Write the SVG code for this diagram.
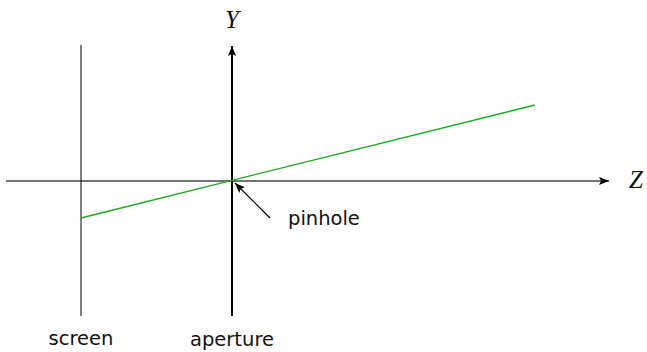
<svg xmlns="http://www.w3.org/2000/svg" width="647" height="352" viewBox="0 0 647 352">
<defs>
<style>
.lbl{font-family:"DejaVu Sans",sans-serif;font-size:19.5px;fill:#111}
.math{font-family:"Liberation Serif",serif;font-style:italic;font-size:25px;fill:#111}
</style>
<marker id="ah" viewBox="0 0 10 8" refX="10" refY="4" markerWidth="11" markerHeight="8" markerUnits="userSpaceOnUse" orient="auto">
<path d="M0,0 L10,4 L0,8 L2,4 Z" fill="#000"/>
</marker>
</defs>
<g id="connectors">
<line x1="6" y1="181" x2="609" y2="181" stroke="#444" stroke-width="1.4" marker-end="url(#ah)"/>
<line x1="232" y1="316" x2="232" y2="46" stroke="#000" stroke-width="2" marker-end="url(#ah)"/>
<line x1="81" y1="45" x2="81" y2="316" stroke="#000" stroke-width="1"/>
<line x1="81" y1="218" x2="535" y2="105" stroke="#1aaa1a" stroke-width="1.3"/>
<line x1="270" y1="218" x2="235" y2="183" stroke="#000" stroke-width="1.2" marker-end="url(#ah)"/>
</g>
<g id="axis-y"><text class="math" x="232" y="28" text-anchor="middle">Y</text></g>
<g id="axis-z"><text class="math" x="636" y="188" text-anchor="middle">Z</text></g>
<g id="pinhole"><text class="lbl" x="288" y="225">pinhole</text></g>
<g id="screen"><text class="lbl" x="81" y="345" text-anchor="middle">screen</text></g>
<g id="aperture"><text class="lbl" x="232" y="346" text-anchor="middle">aperture</text></g>
</svg>
